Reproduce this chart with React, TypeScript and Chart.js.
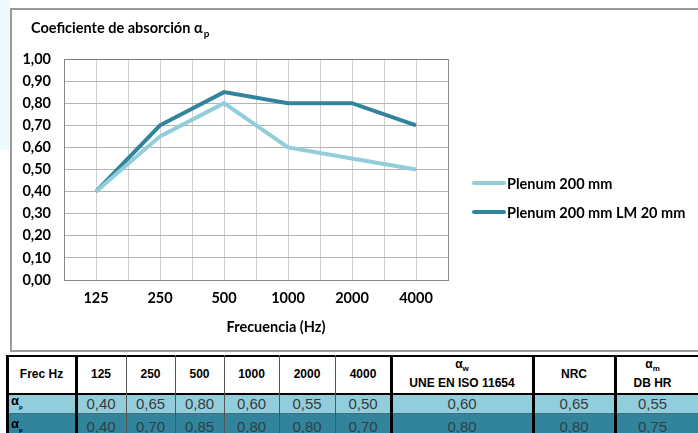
import React, { useEffect, useRef } from 'react';
import { Chart, registerables } from 'chart.js';

Chart.register(...registerables);

// ---- data ----
const frequencies = ['125', '250', '500', '1000', '2000', '4000'];
const plenum200 = [0.40, 0.65, 0.80, 0.60, 0.55, 0.50];
const plenum200LM20 = [0.40, 0.70, 0.85, 0.80, 0.80, 0.70];
const seriesNames = ['Plenum 200 mm', 'Plenum 200 mm LM 20 mm'];
const alphaW = [0.60, 0.80];
const nrcValues = [0.65, 0.80];
const alphaM = [0.55, 0.75];
const chartTitle = 'Coeficiente de absorción α';
const chartTitleSub = 'p';
const xTitle = 'Frecuencia (Hz)';

// ---- styles ----
const LIGHT = '#92cddc';
const DARK = '#31849b';
const FONT = 'Lato, "Open Sans", sans-serif';
const TFONT = '"Liberation Sans", Arial, sans-serif';
const FS = 14.5;

const fmt = (v: number) => v.toFixed(2).replace('.', ',');

const overlayPlugin = {
  id: 'overlay',
  afterDraw(chart: any) {
    const ctx = chart.ctx;
    ctx.save();
    ctx.fillStyle = '#000';
    ctx.textAlign = 'left';
    ctx.textBaseline = 'alphabetic';
    ctx.font = `bold ${FS}px ${FONT}`;
    ctx.fillText(chartTitle, 19, 23);
    const w = ctx.measureText(chartTitle).width;
    ctx.font = `bold 10px ${FONT}`;
    ctx.fillText(chartTitleSub, 19 + w + 1, 27);
    // x axis title (offset to the right like the original)
    ctx.font = `bold ${FS}px ${FONT}`;
    ctx.textAlign = 'center';
    ctx.textBaseline = 'middle';
    ctx.fillText(xTitle, 264, 317);
    ctx.textAlign = 'left';
    chart.data.datasets.forEach((ds: any, i: number) => {
      const y = 173 + i * 29;
      ctx.strokeStyle = ds.borderColor;
      ctx.lineWidth = 4;
      ctx.lineCap = 'round';
      ctx.beginPath();
      ctx.moveTo(462, y);
      ctx.lineTo(492, y);
      ctx.stroke();
      ctx.fillStyle = '#000';
      ctx.font = `bold ${FS}px ${FONT}`;
      ctx.textBaseline = 'middle';
      ctx.fillText(ds.label, 495, y + 1);
    });
    ctx.restore();
  },
};

function ChartCanvas() {
  const ref = useRef<HTMLCanvasElement | null>(null);
  useEffect(() => {
    if (!ref.current) return;
    const mk = (vals: number[]) => vals.map((v, i) => ({ x: i, y: v }));
    const chart = new Chart(ref.current, {
      type: 'line',
      data: {
        datasets: [
          {
            label: seriesNames[0],
            data: mk(plenum200),
            borderColor: LIGHT,
            backgroundColor: LIGHT,
            borderWidth: 4,
            pointRadius: 0,
            tension: 0,
          },
          {
            label: seriesNames[1],
            data: mk(plenum200LM20),
            borderColor: DARK,
            backgroundColor: DARK,
            borderWidth: 4,
            pointRadius: 0,
            tension: 0,
          },
        ],
      },
      options: {
        responsive: false,
        animation: false,
        devicePixelRatio: 1,
        layout: { padding: { left: 0, top: 49, right: 250, bottom: 0 } },
        plugins: { legend: { display: false }, tooltip: { enabled: false }, title: { display: false } },
        scales: {
          x: {
            type: 'linear',
            min: -0.5,
            max: 5.5,
            afterFit: (s: any) => { s.height = 70; },
            afterBuildTicks: (s: any) => {
              const t = [];
              for (let k = 0; k <= 12; k++) t.push({ value: -0.5 + k * 0.5 });
              s.ticks = t;
            },
            ticks: {
              autoSkip: false,
              maxRotation: 0,
              padding: 10,
              color: '#000',
              font: { family: FONT, size: FS, weight: 'bold' },
              callback: (v: any) => {
                const n = Number(v);
                return Math.abs(n - Math.round(n)) < 1e-6 ? frequencies[Math.round(n)] ?? '' : '';
              },
            },
            grid: {
              drawTicks: false,
              color: (c: any) => (c.tick && Math.abs(c.tick.value - 5.5) < 1e-6 ? '#8c8c8c' : '#cfcfcf'),
              lineWidth: 1,
            },
            border: { display: true, color: '#868686', width: 1 },
            title: { display: false },
          },
          y: {
            min: 0,
            max: 1,
            afterFit: (s: any) => { s.width = 52; },
            afterBuildTicks: (s: any) => {
              const t = [];
              for (let k = 0; k <= 10; k++) t.push({ value: k / 10 });
              s.ticks = t;
            },
            ticks: {
              padding: 13,
              color: '#000',
              font: { family: FONT, size: FS, weight: 'bold' },
              callback: (v: any) => fmt(Number(v)),
            },
            grid: {
              drawTicks: false,
              color: (c: any) => (c.tick && Math.abs(c.tick.value - 1) < 1e-6 ? '#7f7f7f' : '#b4b4b4'),
              lineWidth: 1,
            },
            border: { display: true, color: '#868686', width: 1 },
          },
        },
      },
      plugins: [overlayPlugin],
    } as any);
    return () => chart.destroy();
  }, []);
  return <canvas ref={ref} width={686} height={340} style={{ position: 'absolute', left: 0, top: 0, width: 686, height: 340 }} />;
}

// table layout
const colX = [7, 76, 126, 175, 224, 279, 335, 391, 533, 615, 760];
const thickCols = new Set([0, 1, 7, 8, 9]);
const HEAD_TOP = 355;
const HEAD_BOT = 393;
const ROW1_TOP = 395;
const ROW1_BOT = 413;
const ROW2_TOP = 414;
const ROW2_BOT = 440;

function Cell(props: { x0: number; x1: number; y0: number; y1: number; bg?: string; children?: any; align?: string; style?: any }) {
  const { x0, x1, y0, y1, bg, children, align, style } = props;
  return (
    <div
      style={{
        position: 'absolute',
        left: x0,
        top: y0,
        width: x1 - x0,
        height: y1 - y0,
        background: bg || 'transparent',
        display: 'flex',
        flexDirection: 'column',
        alignItems: align === 'left' ? 'flex-start' : 'center',
        justifyContent: 'center',
        paddingLeft: align === 'left' ? 4 : 0,
        boxSizing: 'border-box',
        ...style,
      }}
    >
      {children}
    </div>
  );
}

function Table() {
  const headStyle = { fontFamily: TFONT, fontWeight: 'bold', fontSize: 12, color: '#000', lineHeight: '15px', textAlign: 'center' as const };
  const valStyle = (c: string) => ({ fontFamily: TFONT, fontSize: 15, color: c, lineHeight: '16px' });
  const rows = [
    { vals: plenum200, extra: [alphaW[0], nrcValues[0], alphaM[0]], bg: LIGHT, y0: ROW1_TOP, y1: ROW1_BOT, color: '#3a3a3a' },
    { vals: plenum200LM20, extra: [alphaW[1], nrcValues[1], alphaM[1]], bg: DARK, y0: ROW2_TOP, y1: ROW2_BOT, color: '#2d4248' },
  ];
  const elems: any[] = [];
  elems.push(
    <Cell key="h0" x0={colX[0]} x1={colX[1]} y0={HEAD_TOP} y1={HEAD_BOT} bg="#fff">
      <span style={headStyle}>Frec Hz</span>
    </Cell>
  );
  frequencies.forEach((f, i) => {
    elems.push(
      <Cell key={'hf' + i} x0={colX[i + 1]} x1={colX[i + 2]} y0={HEAD_TOP} y1={HEAD_BOT} bg="#fff">
        <span style={headStyle}>{f}</span>
      </Cell>
    );
  });
  elems.push(
    <Cell key="hw" x0={colX[7]} x1={colX[8]} y0={HEAD_TOP} y1={HEAD_BOT} bg="#fff">
      <span style={headStyle}>α<sub style={{ fontSize: 8 }}>w</sub></span>
      <span style={headStyle}>UNE EN ISO 11654</span>
    </Cell>
  );
  elems.push(
    <Cell key="hn" x0={colX[8]} x1={colX[9]} y0={HEAD_TOP} y1={HEAD_BOT} bg="#fff">
      <span style={headStyle}>NRC</span>
    </Cell>
  );
  elems.push(
    <Cell key="hm" x0={colX[9]} x1={colX[10]} y0={HEAD_TOP} y1={HEAD_BOT} bg="#fff" style={{ paddingRight: 70 }}>
      <span style={headStyle}>α<sub style={{ fontSize: 8 }}>m</sub></span>
      <span style={headStyle}>DB HR</span>
    </Cell>
  );
  rows.forEach((r, ri) => {
    elems.push(
      <Cell key={'rl' + ri} x0={colX[0]} x1={colX[1]} y0={r.y0} y1={r.y1} bg={r.bg} align="left">
        <span style={{ fontFamily: TFONT, fontWeight: 'bold', fontSize: 13, color: '#000', lineHeight: '14px' }}>
          α<sub style={{ fontSize: 6 }}>p</sub>
        </span>
      </Cell>
    );
    const all = [...r.vals, ...r.extra];
    all.forEach((v, i) => {
      elems.push(
        <Cell key={'rv' + ri + '_' + i} x0={colX[i + 1]} x1={colX[i + 2]} y0={r.y0} y1={r.y1} bg={r.bg} style={i === 8 ? { paddingRight: 70 } : undefined}>
          <span style={valStyle(r.color)}>{fmt(v)}</span>
        </Cell>
      );
    });
  });
  const line = (key: string, l: number, t: number, w: number, h: number, c: string) => (
    <div key={key} style={{ position: 'absolute', left: l, top: t, width: w, height: h, background: c }} />
  );
  elems.push(line('t', colX[0], HEAD_TOP, 760, 2, '#000'));
  elems.push(line('hb', colX[0], HEAD_BOT, 760, 2, '#000'));
  elems.push(line('rb', colX[0], ROW1_BOT, 760, 1, '#3d6f7c'));
  colX.forEach((x, i) => {
    if (thickCols.has(i)) elems.push(line('v' + i, x - 1, HEAD_TOP, 3, 100, '#000'));
    else elems.push(line('v' + i, x, HEAD_TOP, 1, 100, '#555'));
  });
  return <>{elems}</>;
}

export default function App() {
  return (
    <div style={{ position: 'fixed', left: 0, top: 0, width: 698, height: 433, background: '#fff', overflow: 'hidden' }}>
      <div style={{ position: 'absolute', left: 0, top: 0, width: 10, height: 150, background: '#eefbfc' }} />
      <div
        style={{
          position: 'absolute',
          left: 10,
          top: 8,
          width: 720,
          height: 344,
          border: '2px solid #9a9a9a',
          boxSizing: 'border-box',
          background: '#fff',
        }}
      >
        <ChartCanvas />
      </div>
      <Table />
    </div>
  );
}
